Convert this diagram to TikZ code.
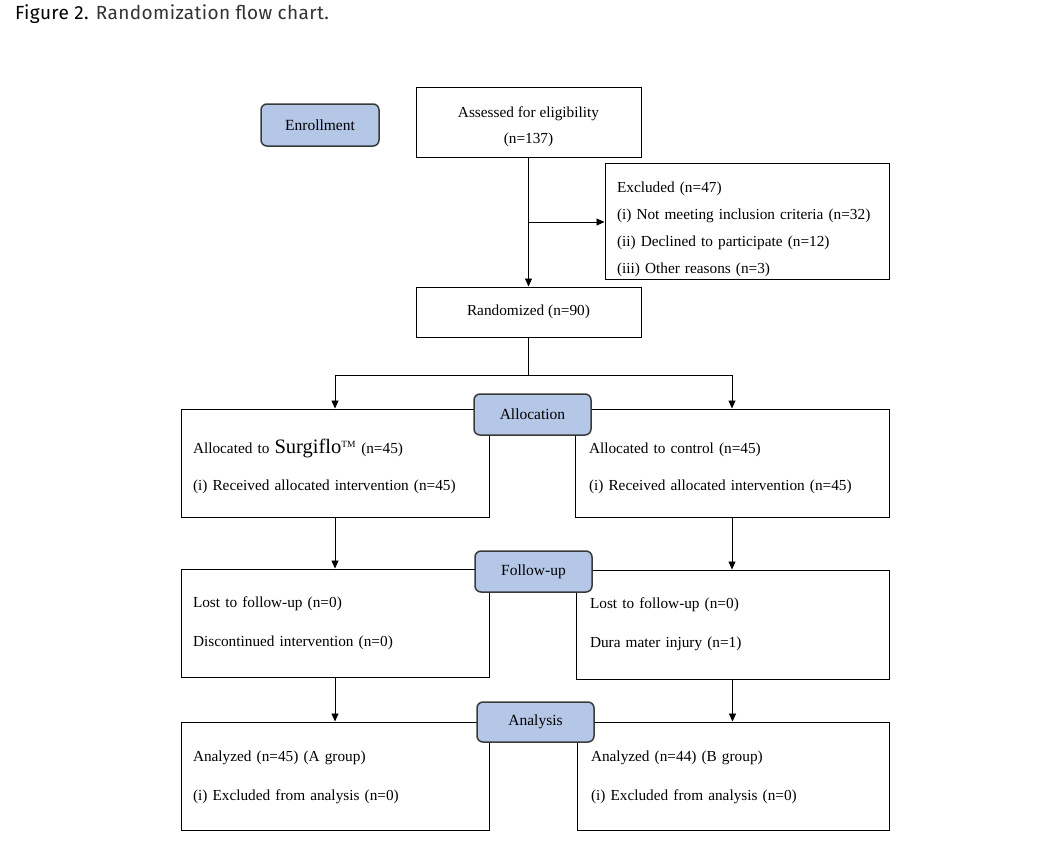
\documentclass[tikz,border=0pt]{standalone}
\usepackage{fontspec}
\setmainfont{Liberation Serif}
\newfontfamily\titlefont[LetterSpace=2]{Fira Sans}
\usetikzlibrary{arrows.meta,calc}
\definecolor{lblfill}{HTML}{B4C7E7}
\definecolor{lbldraw}{HTML}{3A3A3A}
\newcommand{\tp}[1]{\rule{0pt}{#1pt}}
\newcommand{\bt}{\rule[-4pt]{0pt}{4pt}}
\begin{document}
\begin{tikzpicture}[x=1pt,y=-1pt,
  box/.style={draw, line width=1pt, inner ysep=0pt, font=\fontsize{15.3}{26}\selectfont},
  lbox/.style={box, align=left, inner xsep=12pt},
  tag/.style={draw=lbldraw, fill=lblfill, line width=1.5pt, rounded corners=6pt,
     inner sep=0pt, font=\fontsize{15.5}{17}\selectfont},
  arr/.style={line width=0.8pt, -{Triangle[length=8pt,width=7pt]}},
  ln/.style={line width=0.8pt}]
\useasboundingbox (0,0) rectangle (1039,855);
\node[anchor=base west, inner sep=0pt, font=\titlefont\fontsize{19}{21}\selectfont] (title) at (15,19.5)
  {\textcolor{black}{Figure 2.} \textcolor[HTML]{333333}{Randomization flow chart.}};

% boxes
\node[box, align=center, minimum width=225pt, minimum height=70pt] (assess) at (528.5,122)
  {\tp{20}Assessed for eligibility\\(n=137)\bt};
\node[lbox, text width=260pt, minimum height=116pt, font=\fontsize{15.3}{27}\selectfont] (excl) at (747,221.5)
  {\tp{26}Excluded (n=47)\\(i) Not meeting inclusion criteria (n=32)\\(ii) Declined to participate (n=12)\\(iii) Other reasons (n=3)\bt};
\node[box, minimum width=225pt, minimum height=50pt] (rand) at (528.5,312) {Randomized (n=90)};

\node[lbox, text width=284pt, minimum height=108pt, font=\fontsize{15.3}{37}\selectfont] (allocL) at (335,463)
  {\tp{21}Allocated to {\fontsize{20.5}{20.5}\selectfont Surgiflo}\textsuperscript{\fontsize{9.5}{9.5}\selectfont TM} (n=45)\\(i) Received allocated intervention (n=45)\bt};
\node[lbox, text width=286pt, inner xsep=14pt, minimum height=108pt, font=\fontsize{15.3}{37}\selectfont] (allocR) at (732,463)
  {\tp{21}Allocated to control (n=45)\\(i) Received allocated intervention (n=45)\bt};

\node[lbox, text width=284pt, minimum height=108pt, font=\fontsize{15.3}{39}\selectfont] (fuL) at (335,623)
  {\tp{11}Lost to follow-up (n=0)\\Discontinued intervention (n=0)\bt};
\node[lbox, text width=285pt, inner xsep=14pt, minimum height=109pt, font=\fontsize{15.3}{39}\selectfont] (fuR) at (732.5,624.5)
  {\tp{10}Lost to follow-up (n=0)\\Dura mater injury (n=1)\bt};

\node[lbox, text width=284pt, minimum height=108pt, font=\fontsize{15.3}{39}\selectfont] (anL) at (335,776)
  {\tp{14}Analyzed (n=45) (A group)\\(i) Excluded from analysis (n=0)\bt};
\node[lbox, text width=284pt, inner xsep=14pt, minimum height=108pt, font=\fontsize{15.3}{39}\selectfont] (anR) at (733,776)
  {\tp{14}Analyzed (n=44) (B group)\\(i) Excluded from analysis (n=0)\bt};

% tags
\node[tag, minimum width=118pt, minimum height=42pt] (tEnroll) at (320,125) {Enrollment};
\node[tag, minimum width=117pt, minimum height=41pt] (tAlloc) at (532.5,414.5) {Allocation};
\node[tag, minimum width=117pt, minimum height=41pt] (tFollow) at (533.5,571.5) {Follow-up};
\node[tag, minimum width=117pt, minimum height=40pt] (tAnal) at (535.5,722) {Analysis};

% connectors
\draw[arr] (assess.south) -- (rand.north);
\coordinate (b1) at (528.5,222);
\draw[arr] (b1) -- (b1 -| excl.west);
\draw[ln] (rand.south) -- ++(0,38) coordinate (split);
\draw[arr] (split) -| (allocL.north);
\draw[arr] (split) -| (allocR.north);
\draw[arr] (allocL.south) -- (fuL.north);
\draw[arr] (allocR.south) -- (allocR.south |- fuR.north);
\draw[arr] (fuL.south) -- (anL.north);
\draw[arr] (fuR.south) -- (fuR.south |- anR.north);
\end{tikzpicture}
\end{document}
